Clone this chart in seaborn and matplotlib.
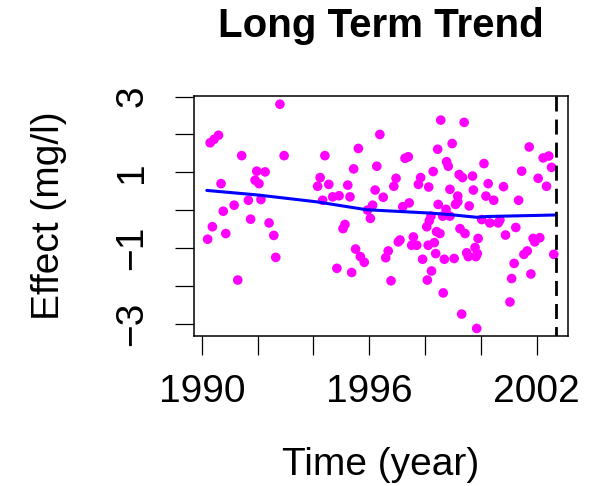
import matplotlib
matplotlib.use("Agg")
import matplotlib.pyplot as plt
import seaborn as sns
import pandas as pd

# ---- data ----
years = [
    1990.30, 1990.44, 1990.60, 1991.43, 1992.95, 1992.80, 1991.97, 1992.27, 1991.91, 1992.05,
    1990.69, 1991.67, 1992.12, 1991.16, 1990.77, 1990.38, 1990.21, 1990.86, 1991.75, 1992.41,
    1992.58, 1992.65, 1991.29, 1994.41, 1994.24, 1994.15, 1994.55, 1995.23, 1995.44, 1995.61,
    1994.33, 1994.69, 1994.92, 1995.31, 1996.21, 1996.38, 1996.27, 1996.12, 1995.94, 1996.04,
    1995.13, 1995.06, 1995.51, 1995.68, 1995.82, 1994.84, 1995.37,
    1996.50, 1998.56, 1999.40, 1998.97, 1998.45, 1997.28, 1997.40, 1998.77, 1998.83, 1998.29,
    1997.84, 1997.76, 1996.96, 1996.88, 1998.13, 1998.89, 1999.22, 1999.34, 1999.70, 1999.73,
    2000.11, 2000.26, 2000.81, 2001.73, 2001.46, 2002.05, 2002.35, 2002.23, 2002.43, 2002.53,
    2001.35, 2000.18, 2000.46, 1999.17, 1999.09, 1999.17, 1999.58, 1998.47, 1998.75, 1997.20,
    1997.43, 1998.63, 1998.89, 1998.21, 1998.15, 1998.06, 1998.41, 1998.53, 2000.03, 2000.32,
    2000.62, 2000.68, 1999.25, 1999.43, 1999.90, 2000.88, 2001.25, 1997.10, 1997.04, 1997.58,
    1997.52, 1997.70, 1998.11, 1998.33, 2001.87, 2002.11, 2001.93, 1996.68, 1996.59, 1998.38,
    1997.91, 1998.69, 1999.04, 1999.49, 1999.55, 1999.79, 1999.87, 1999.82, 2001.54, 2001.66,
    2001.19, 2002.61, 2001.10, 2001.79, 1998.23, 1998.08, 1996.78, 1998.65, 2001.04, 1999.31,
    1999.85,
]
effects = [
    1.78, 1.87, 1.98, 1.44, 1.44, 2.80, 1.03, 1.01, 0.79, 0.70,
    0.70, 0.26, 0.28, 0.13, -0.03, -0.44, -0.77, -0.62, -0.24, -0.34,
    -0.67, -1.25, -1.85, 1.44, 0.86, 0.63, 0.68, 0.66, 1.09, 1.63,
    0.26, 0.35, 0.38, 0.35, 0.53, 2.00, 1.16, 0.13, 0.00, -0.22,
    -0.38, -0.49, -1.03, -1.23, -1.38, -1.54, -1.65,
    0.34, 2.38, 2.32, 1.76, 1.61, 1.37, 1.41, 1.28, 1.16, 1.02,
    0.86, 0.68, 0.84, 0.63, 0.61, 0.55, 0.94, 0.86, 0.90, 0.53,
    1.23, 0.70, 0.62, 1.67, 1.03, 0.84, 0.63, 1.38, 1.43, 1.13,
    0.26, 0.37, 0.26, 0.37, 0.15, 0.22, 0.11, 0.15, 0.02, 0.09,
    0.19, -0.16, -0.16, -0.16, -0.28, -0.44, -0.57, -0.62, -0.25, -0.34,
    -0.34, -0.26, -0.49, -0.62, -0.75, -0.66, -0.46, -0.79, -0.84, -0.71,
    -0.93, -0.93, -0.93, -0.86, -0.75, -0.73, -0.84, -1.08, -1.26, -1.15,
    -1.30, -1.30, -1.28, -1.13, -1.23, -0.99, -1.15, -1.23, -1.17, -1.08,
    -1.41, -1.17, -1.81, -1.69, -1.61, -1.85, -1.87, -2.19, -2.43, -2.75,
    -3.13,
]
trend_years = [1990.18, 1992.0, 1994.1, 1995.9, 1998.2, 1998.9, 1999.85, 2000.2, 2002.65]
trend_values = [0.52, 0.40, 0.22, 0.01, -0.08, -0.12, -0.19, -0.17, -0.13]
cutoff_year = 2002.69

x_ticks = [1990, 1992, 1994, 1996, 1998, 2000, 2002]
x_labels = ["1990", "", "", "1996", "", "", "2002"]
y_ticks = [-3, -2, -1, 0, 1, 2, 3]
y_labels = ["\u22123", "", "\u22121", "", "1", "", "3"]

title = "Long Term Trend"
xlabel = "Time (year)"
ylabel = "Effect (mg/l)"

# ---- plot ----
sns.set_style("white")
plt.rcParams["font.family"] = ["Liberation Sans", "DejaVu Sans"]
plt.rcParams.update({
    "text.color": "black",
    "axes.labelcolor": "black",
    "xtick.color": "black",
    "ytick.color": "black",
})

pts = pd.DataFrame({"year": years, "effect": effects})
trend = pd.DataFrame({"year": trend_years, "effect": trend_values})

fig = plt.figure(figsize=(6.08, 4.86), dpi=100)
ax = fig.add_axes([0.319, 0.309, 0.615, 0.494])

sns.scatterplot(data=pts, x="year", y="effect", ax=ax, color="#FF00FF",
                s=48, edgecolor="none", linewidth=0, zorder=2)
sns.lineplot(data=trend, x="year", y="effect", ax=ax, color="#0000FF",
             linewidth=2.2, zorder=3)
ax.axvline(cutoff_year, ymin=1, ymax=0, color="black", linestyle=(0, (5.4, 2.9)),
           linewidth=2.0, zorder=4)

ax.set_xlim(1989.72, 2003.115)
ax.set_ylim(-3.325, 3.024)
ax.set_xticks(x_ticks)
ax.set_xticklabels(x_labels)
ax.set_yticks(y_ticks)
ax.set_yticklabels(y_labels, rotation=90, va="center")

for sp in ax.spines.values():
    sp.set_visible(True)
    sp.set_color("black")
    sp.set_linewidth(1.1)

ax.tick_params(axis="both", direction="out", length=14, width=0.9,
               labelsize=28, bottom=True, left=True)
ax.tick_params(axis="x", pad=13.5)
ax.tick_params(axis="y", pad=17.5)

ax.set_xlabel(xlabel, fontsize=28)
ax.set_ylabel(ylabel, fontsize=28)
ax.xaxis.set_label_coords(0.5, -0.462)
ax.yaxis.set_label_coords(-0.34, 0.5)
ax.set_title(title, fontsize=29, fontweight="bold", pad=42)

fig.savefig("out.png", dpi=100)
